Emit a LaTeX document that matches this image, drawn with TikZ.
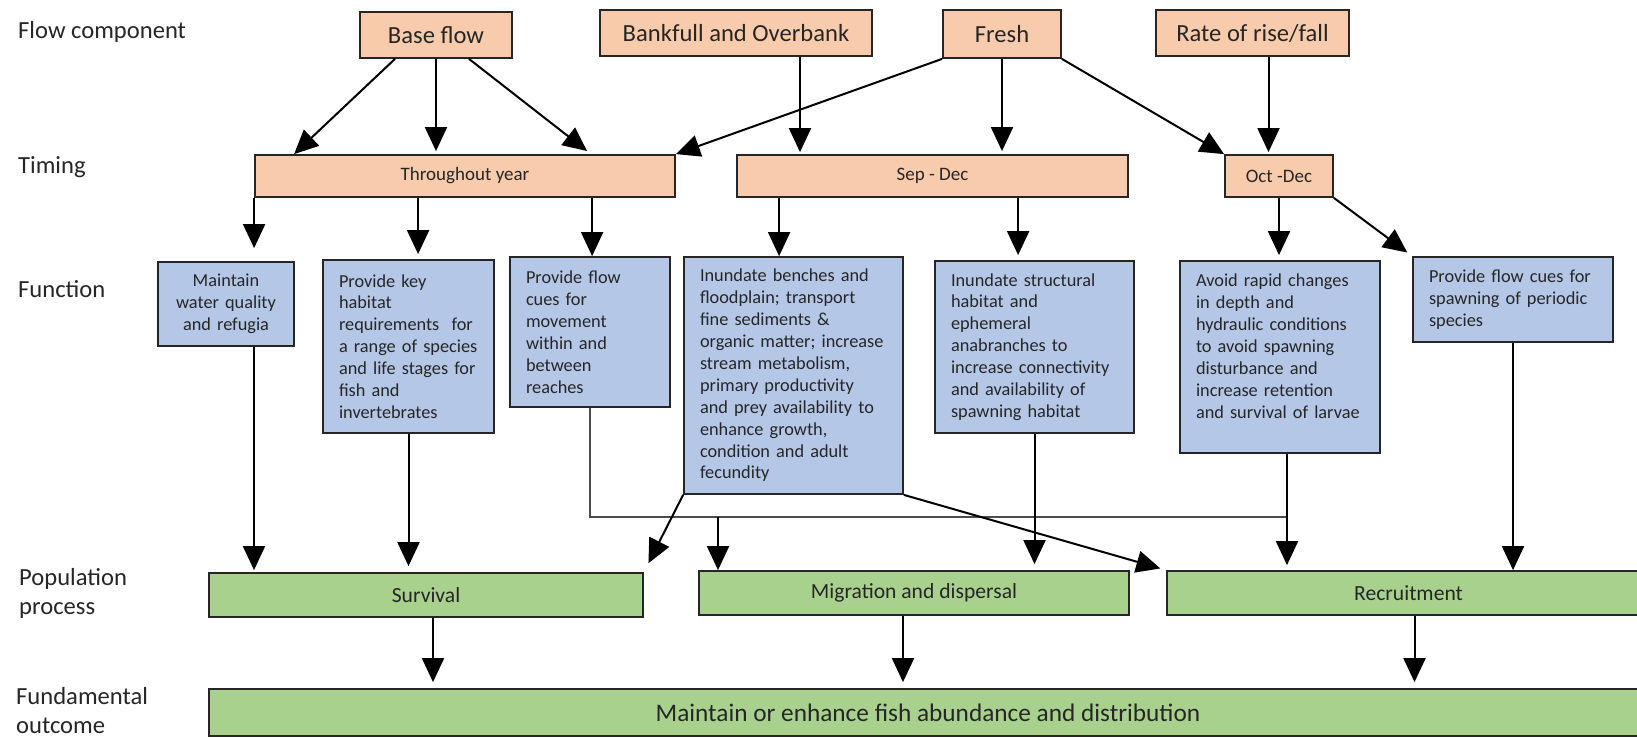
\documentclass[tikz,border=0pt]{standalone}
\usepackage{fontspec}
\setmainfont{Carlito}
\usetikzlibrary{arrows.meta,positioning,calc}
\definecolor{peach}{HTML}{F8CBAD}
\definecolor{paleblue}{HTML}{B4C7E7}
\definecolor{leafgreen}{HTML}{A9D18E}

\begin{document}
\begin{tikzpicture}[
  x=1pt, y=-1pt,
  comp/.style={draw=black!85, line width=1.8pt, fill=peach, inner sep=0pt, text=black!85, font=\fontsize{24.6}{29}\selectfont},
  timing/.style={comp, font=\fontsize{19}{23}\selectfont},
  func/.style={draw=black!85, line width=1.8pt, fill=paleblue, inner xsep=16pt, inner ysep=0pt, align=left, text=black!85, font=\fontsize{18.3}{21.9}\selectfont},
  proc/.style={draw=black!85, line width=1.8pt, fill=leafgreen, inner sep=0pt, text=black!85, font=\fontsize{21.6}{26}\selectfont},
  lbl/.style={anchor=west, align=left, inner sep=0pt, text=black!85, font=\fontsize{24.6}{29}\selectfont},
  arrow/.style={-{Triangle[length=24pt,width=22pt]}, line width=2pt},
  link/.style={line width=2.2pt, draw=black!70}
]
\useasboundingbox (0,0) rectangle (1637,737);
\clip (0,0) rectangle (1637,737);
\fill[white] (0,0) rectangle (1637,737);

\node[lbl] (lflow) at (18,32) {Flow component};
\node[lbl] (ltime) at (18,167) {Timing};
\node[lbl] (lfunc) at (18,289) {Function};
\node[lbl] (lproc) at (19,593) {Population\\process};
\node[lbl] (lout) at (16,711) {Fundamental\\outcome};

\node[comp, minimum width=152pt, minimum height=46pt] (base) at (436,35) {Base flow};
\node[comp, minimum width=272pt, minimum height=46pt] (bank) at (736,33) {Bankfull and Overbank};
\node[comp, minimum width=118pt, minimum height=48pt] (fresh) at (1002,34) {Fresh};
\node[comp, minimum width=193pt, minimum height=46pt] (rate) at (1252.5,33) {Rate of rise/fall};

\node[timing, minimum width=420pt, minimum height=42pt] (tyear) at (465,176) {Throughout year};
\node[timing, minimum width=391pt, minimum height=42pt] (tsep) at (932.5,176) {Sep - Dec};
\node[timing, minimum width=108pt, minimum height=42pt] (toct) at (1279,176) {Oct -Dec};

\node[func, align=center, text width=104pt, minimum height=84pt] (maint) at (226,304) {Maintain\\water quality\\and refugia};
\node[func, text width=139pt, minimum height=173pt] (habit) at (408.5,346.5) {Provide key\\habitat\\requirements~ for\\a range of species\\and life stages for\\fish and\\invertebrates};
\node[func, text width=128pt, minimum height=150pt] (cues) at (590,332) {Provide flow\\cues for\\movement\\within and\\between\\reaches};
\node[func, text width=187pt, minimum height=237pt] (bench) at (793.5,375.5) {Inundate benches and\\floodplain; transport\\fine sediments \&\\organic matter; increase\\stream metabolism,\\primary productivity\\and prey availability to\\enhance growth,\\condition and adult\\fecundity};
\node[func, text width=167pt, minimum height=172pt] (struct) at (1034.5,347) {Inundate structural\\habitat and\\ephemeral\\anabranches to\\increase connectivity\\and availability of\\spawning habitat};
\node[func, text width=168pt, minimum height=192pt] (avoid) at (1280,357) {Avoid rapid changes\\in depth and\\hydraulic conditions\\to avoid spawning\\disturbance and\\increase retention\\and survival of larvae\\\mbox{}};
\node[func, text width=168pt, minimum height=85pt] (spawn) at (1513,299.5) {Provide flow cues for\\spawning of periodic\\species};

\node[proc, minimum width=434pt, minimum height=44pt] (surv) at (426,595) {Survival};
\node[proc, minimum width=430pt, minimum height=44pt] (migr) at (914,593) {Migration and dispersal};
\node[proc, minimum width=483pt, minimum height=44pt] (recr) at (1408.5,593) {Recruitment};
\node[proc, minimum width=1438pt, minimum height=47pt, font=\fontsize{25.3}{30}\selectfont] (fund) at (928,712.5) {Maintain or enhance fish abundance and distribution};

\coordinate (jn) at (1287,517);
\coordinate (mj) at (718,517);

\draw[arrow] ([xshift=-41pt]base.south) -- ([xshift=40pt]tyear.north west);
\draw[arrow, shorten >=3pt] (base.south) -- (base.south |- tyear.north);
\draw[arrow, shorten >=5pt] ([xshift=33pt]base.south) -- ([xshift=126pt]tyear.north);
\draw[arrow] (fresh.south west) -- (tyear.north east);
\draw[arrow, shorten >=2pt] ([xshift=64pt]bank.south) -- ([xshift=64pt]bank.south |- tsep.north);
\draw[arrow, shorten >=3pt] (fresh.south) -- (fresh.south |- tsep.north);
\draw[arrow] (fresh.south east) -- (toct.north west);
\draw[arrow, shorten >=2pt] ([xshift=16pt]rate.south) -- ([xshift=16pt]rate.south |- toct.north);

\draw[arrow, shorten >=13pt] (tyear.south west) -- (tyear.south west |- maint.north);
\draw[arrow, shorten >=5pt] ([xshift=164pt]tyear.south west) -- ([xshift=164pt]tyear.south west |- habit.north);
\draw[arrow] ([xshift=338pt]tyear.south west) -- ([xshift=338pt]tyear.south west |- cues.north);
\draw[arrow] ([xshift=43pt]tsep.south west) -- ([xshift=43pt]tsep.south west |- bench.north);
\draw[arrow, shorten >=5pt] ([xshift=282pt]tsep.south west) -- ([xshift=282pt]tsep.south west |- struct.north);
\draw[arrow, shorten >=5pt] (toct.south) -- (toct.south |- avoid.north);
\draw[arrow, shorten >=6pt] (toct.south east) -- (spawn.north west);

\draw[link] (cues.south) |- (jn);
\draw[arrow, shorten >=2pt] ([xshift=28pt]maint.south) -- ([xshift=28pt]maint.south |- surv.north);
\draw[arrow, shorten >=6pt] (habit.south) -- (habit.south |- surv.north);
\draw[arrow, shorten >=10pt] (bench.south west) -- (surv.north east);
\draw[arrow] (mj) -- (mj |- migr.north);
\draw[arrow, shorten >=6pt] (struct.south) -- (struct.south |- migr.north);
\draw[arrow, shorten >=6pt] (bench.south east) -- (recr.north west);
\draw[arrow, shorten >=5pt] ([xshift=7pt]avoid.south) -- ([xshift=7pt]avoid.south |- recr.north);
\draw[arrow] (spawn.south) -- (spawn.south |- recr.north);

\draw[arrow, shorten >=6pt] ([xshift=7pt]surv.south) -- ([xshift=7pt]surv.south |- fund.north);
\draw[arrow, shorten >=6pt] ([xshift=-11pt]migr.south) -- ([xshift=-11pt]migr.south |- fund.north);
\draw[arrow, shorten >=6pt] ([xshift=6pt]recr.south) -- ([xshift=6pt]recr.south |- fund.north);
\end{tikzpicture}
\end{document}
